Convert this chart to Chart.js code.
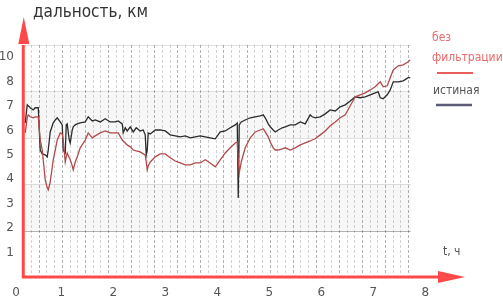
<!DOCTYPE html>
<html>
<head>
<meta charset="utf-8">
<script src="https://cdn.jsdelivr.net/npm/chart.js@4"></script>
<style>
  html, body { margin: 0; padding: 0; background: #fff; }
  #wrap { width: 503px; height: 306px; }
</style>
</head>
<body>
<div id="wrap"><canvas id="rangeChart"></canvas></div>
<script>
// time, hours
const hours = [0.308, 0.346, 0.365, 0.404, 0.462, 0.5, 0.558, 0.596, 0.635, 0.692, 0.731, 0.75, 0.788, 0.846, 0.885, 0.923, 0.981, 1.019, 1.038, 1.077, 1.096, 1.115, 1.154, 1.173, 1.212, 1.231, 1.269, 1.308, 1.365, 1.462, 1.519, 1.596, 1.654, 1.75, 1.846, 1.942, 2.038, 2.096, 2.173, 2.192, 2.231, 2.269, 2.327, 2.385, 2.442, 2.519, 2.577, 2.615, 2.635, 2.654, 2.673, 2.712, 2.808, 2.904, 3.0, 3.096, 3.192, 3.288, 3.385, 3.481, 3.577, 3.673, 3.769, 3.865, 3.962, 4.058, 4.154, 4.25, 4.346, 4.385, 4.404, 4.423, 4.462, 4.538, 4.635, 4.731, 4.827, 4.885, 4.923, 4.981, 5.019, 5.077, 5.115, 5.173, 5.25, 5.308, 5.404, 5.5, 5.596, 5.692, 5.788, 5.827, 5.885, 5.981, 6.077, 6.173, 6.269, 6.365, 6.462, 6.558, 6.654, 6.75, 6.846, 6.942, 7.038, 7.096, 7.135, 7.192, 7.269, 7.327, 7.385, 7.481, 7.577, 7.673, 7.712];

// истиная дальность, км
const trueRange = [6.31, 7.05, 7.01, 6.93, 6.84, 6.93, 6.93, 5.20, 5.04, 5.00, 4.92, 5.20, 5.94, 6.31, 6.43, 6.52, 6.35, 6.23, 5.20, 5.08, 6.23, 6.27, 5.61, 5.49, 6.02, 6.15, 6.23, 6.27, 6.31, 6.35, 6.56, 6.39, 6.43, 6.35, 6.48, 6.35, 6.35, 6.39, 6.27, 5.90, 6.11, 5.98, 6.15, 5.94, 6.11, 5.98, 6.02, 5.82, 5.00, 5.20, 5.90, 5.86, 6.02, 6.02, 5.98, 5.82, 5.78, 5.74, 5.78, 5.70, 5.74, 5.78, 5.74, 5.70, 5.66, 5.94, 5.98, 6.11, 6.23, 6.31, 3.24, 6.23, 6.35, 6.43, 6.52, 6.56, 6.60, 6.64, 6.52, 6.27, 6.15, 6.02, 5.94, 6.02, 6.11, 6.15, 6.23, 6.23, 6.35, 6.27, 6.64, 6.56, 6.52, 6.56, 6.68, 6.84, 6.80, 6.97, 7.05, 7.21, 7.38, 7.34, 7.38, 7.46, 7.54, 7.58, 7.34, 7.30, 7.46, 7.66, 7.99, 7.99, 8.03, 8.16, 8.16];

// без фильтрации, км
const rawRange = [5.90, 6.52, 6.64, 6.56, 6.52, 6.56, 6.56, 5.61, 5.20, 3.98, 3.65, 3.57, 3.89, 4.80, 5.20, 5.61, 5.90, 5.86, 5.61, 4.71, 4.92, 5.08, 4.88, 4.80, 4.55, 4.39, 4.71, 4.92, 5.29, 5.61, 5.90, 5.70, 5.78, 5.90, 5.98, 5.90, 5.90, 5.90, 5.61, 5.57, 5.49, 5.41, 5.33, 5.20, 5.16, 5.12, 5.04, 5.00, 4.71, 4.39, 4.55, 4.71, 4.92, 5.04, 5.04, 4.88, 4.75, 4.67, 4.59, 4.59, 4.67, 4.67, 4.80, 4.67, 4.51, 4.80, 5.08, 5.29, 5.49, 5.53, 4.80, 4.26, 4.71, 5.29, 5.70, 5.94, 6.02, 6.07, 5.94, 5.74, 5.53, 5.29, 5.20, 5.20, 5.25, 5.29, 5.20, 5.29, 5.41, 5.49, 5.57, 5.61, 5.66, 5.82, 5.98, 6.19, 6.35, 6.52, 6.64, 7.01, 7.38, 7.46, 7.54, 7.66, 7.79, 7.91, 7.99, 7.79, 7.83, 8.16, 8.48, 8.65, 8.69, 8.81, 8.89];

const xTicks = [0.13, 1, 2, 3, 4, 5, 6, 7, 8];
const xTickLabels = ['0', '1', '2', '3', '4', '5', '6', '7', '8'];
const yTicks = [1, 2, 3, 4, 5, 6, 7, 8, 9];
const yTickLabels = ['1', '2', '3', '4', '5', '6', '7', '8', '10'];

const FONT = "'DejaVu Sans', sans-serif";
const AXIS_RED = '#ff4848';
const axisAt = 0.27;     // where the y arrow stands
const gridEnd = 7.72;    // grid stops here
const bandStep = 1.9;

const decor = {
  id: 'decor',
  beforeDatasetsDraw(chart) {
    const { ctx, chartArea, scales: { x, y } } = chart;
    const x0 = x.getPixelForValue(axisAt) + 1;
    const x1 = x.getPixelForValue(gridEnd);
    ctx.save();
    // shaded bands
    ctx.fillStyle = 'rgba(0,0,0,0.03)';
    [[bandStep, bandStep * 2], [bandStep * 3, bandStep * 4]].forEach(([a, b]) => {
      const ya = y.getPixelForValue(a), yb = y.getPixelForValue(b);
      ctx.fillRect(x0, yb, x1 - x0, ya - yb);
    });
    // vertical dashed grid
    ctx.setLineDash([3, 2]);
    let i = 0;
    for (let t = 0.42; t <= gridEnd; t += 0.148, i++) {
      const px = Math.round(x.getPixelForValue(t)) + 0.5;
      ctx.strokeStyle = i % 3 === 1 ? 'rgba(0,0,0,0.3)' : 'rgba(0,0,0,0.17)';
      ctx.lineWidth = 1;
      ctx.beginPath();
      ctx.moveTo(px, chartArea.top);
      ctx.lineTo(px, chartArea.bottom - 3);
      ctx.stroke();
    }
    ctx.setLineDash([]);
    // horizontal grid
    for (let k = 1; k <= 5; k++) {
      const py = Math.round(y.getPixelForValue(bandStep * k)) + 0.5;
      ctx.strokeStyle = k === 1 ? 'rgba(0,0,0,0.3)' : 'rgba(0,0,0,0.12)';
      ctx.beginPath();
      ctx.moveTo(x0, py);
      ctx.lineTo(x1, py);
      ctx.stroke();
    }
    ctx.restore();
  },
  afterDraw(chart) {
    const { ctx, chartArea, scales: { x, y } } = chart;
    const ax = x.getPixelForValue(axisAt);
    const by = chartArea.bottom;
    ctx.save();
    // axes arrows
    ctx.strokeStyle = AXIS_RED;
    ctx.fillStyle = AXIS_RED;
    ctx.lineWidth = 3;
    ctx.beginPath();
    ctx.moveTo(ax, by + 1.5);
    ctx.lineTo(ax, chartArea.top);
    ctx.moveTo(ax - 1.5, by);
    ctx.lineTo(chartArea.right - 26, by);
    ctx.stroke();
    ctx.beginPath();
    ctx.moveTo(ax + 0.5, chartArea.top - 28);
    ctx.lineTo(ax - 5, chartArea.top - 1);
    ctx.lineTo(ax + 6, chartArea.top - 1);
    ctx.closePath();
    ctx.fill();
    ctx.beginPath();
    ctx.moveTo(chartArea.right, by);
    ctx.lineTo(chartArea.right - 27, by - 6);
    ctx.lineTo(chartArea.right - 27, by + 6);
    ctx.closePath();
    ctx.fill();

    // titles
    ctx.textBaseline = 'middle';
    ctx.fontStretch = 'condensed';
    ctx.fillStyle = '#333';
    ctx.font = '17px ' + FONT;
    ctx.fontStretch = 'condensed';
    ctx.fillText('дальность, км', 33, 13);
    ctx.fillStyle = '#555';
    ctx.font = '12px ' + FONT;
    ctx.fontStretch = 'condensed';
    ctx.fillText('t, ч', 443, 252);

    // legend
    ctx.font = '12px ' + FONT;
    ctx.fontStretch = 'condensed';
    ctx.fillStyle = '#e86a6a';
    ctx.fillText('без', 432, 38);
    ctx.fillText('фильтрации', 432, 58);
    ctx.strokeStyle = '#e85c5c';
    ctx.lineWidth = 2;
    ctx.beginPath();
    ctx.moveTo(437, 73);
    ctx.lineTo(473, 73);
    ctx.stroke();
    ctx.fillStyle = '#555';
    ctx.fillText('истиная', 433, 91);
    ctx.strokeStyle = '#5c5c78';
    ctx.lineWidth = 2.5;
    ctx.beginPath();
    ctx.moveTo(436, 105);
    ctx.lineTo(472, 105);
    ctx.stroke();
    ctx.restore();
  }
};

new Chart(document.getElementById('rangeChart'), {
  type: 'line',
  data: {
    datasets: [
      {
        label: 'без фильтрации',
        data: hours.map((t, i) => ({ x: t, y: rawRange[i] })),
        borderColor: '#b04a4a',
        borderWidth: 1.3,
        pointRadius: 0,
        tension: 0
      },
      {
        label: 'истиная',
        data: hours.map((t, i) => ({ x: t, y: trueRange[i] })),
        borderColor: '#2b2b2b',
        borderWidth: 1.3,
        pointRadius: 0,
        tension: 0
      }
    ]
  },
  options: {
    responsive: true,
    maintainAspectRatio: false,
    animation: false,
    layout: { padding: { top: 45, right: 38, left: 0, bottom: 0 } },
    plugins: { legend: { display: false }, tooltip: { enabled: false } },
    scales: {
      x: {
        type: 'linear',
        min: 0.13,
        max: 8.765,
        grid: { display: false, drawTicks: false },
        border: { display: false },
        afterFit(scale) { scale.height = 29; },
        afterBuildTicks(scale) { scale.ticks = xTicks.map(v => ({ value: v })); },
        ticks: {
          padding: 9,
          maxRotation: 0,
          autoSkip: false,
          color: '#555',
          font: { family: FONT, size: 12 },
          callback: (v) => xTickLabels[xTicks.indexOf(v)]
        }
      },
      y: {
        min: 0,
        max: 9.5,
        grid: { display: false, drawTicks: false },
        border: { display: false },
        afterFit(scale) { scale.width = 16; },
        afterBuildTicks(scale) { scale.ticks = yTicks.map(v => ({ value: v })); },
        ticks: {
          padding: 2,
          autoSkip: false,
          color: '#555',
          font: { family: FONT, size: 12 },
          callback: (v) => yTickLabels[yTicks.indexOf(v)]
        }
      }
    }
  },
  plugins: [decor]
});
</script>
</body>
</html>
